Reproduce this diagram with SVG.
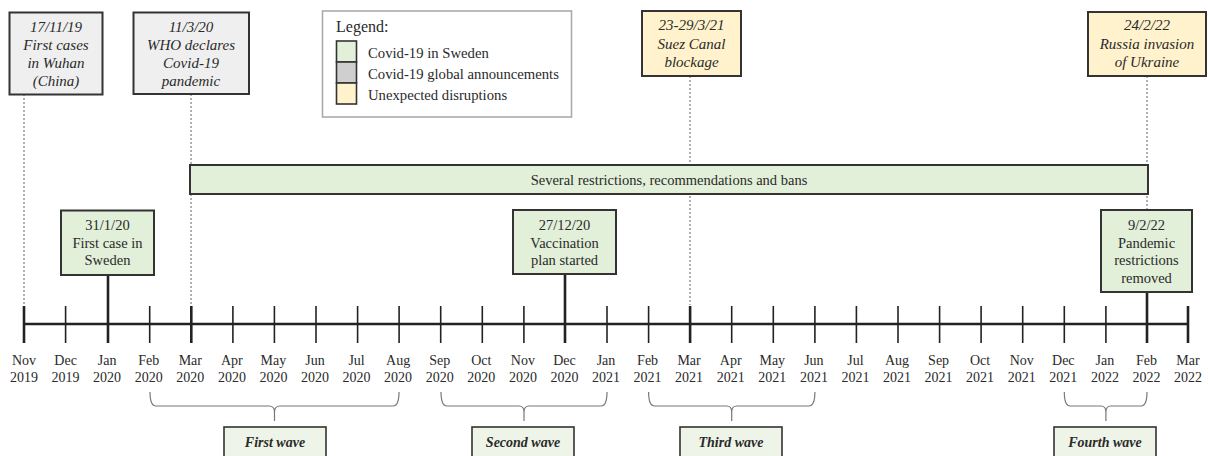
<svg xmlns="http://www.w3.org/2000/svg" width="1208" height="456" viewBox="0 0 1208 456">
<style>
text{font-family:"Liberation Serif","Times New Roman",serif;fill:#2a2a2a;text-anchor:middle}
.it{font-style:italic;font-size:15px}
.ev{font-size:14.5px}
.mo{font-size:14px}
.wv{font-size:14px;font-style:italic;font-weight:bold}
.lg{font-size:14.7px;text-anchor:start}
.gray{fill:#efefef;stroke:#333;stroke-width:2}
.yel{fill:#fff2cc;stroke:#333;stroke-width:2}
.grn{fill:#e2efd9;stroke:#333;stroke-width:2}
.wbox{fill:#eef5e8;stroke:#333;stroke-width:1.6}
.dash{stroke:#888;stroke-width:1.3;stroke-dasharray:2 2;fill:none}
.evl{stroke:#222;stroke-width:2.6;fill:none}
.tk{stroke:#222;stroke-width:1.6}
.tkb{stroke:#222;stroke-width:2.6}
.br{stroke:#777;stroke-width:1.2;fill:none}
</style>

<g id="connectors">
  <line class="dash" x1="24" y1="94" x2="24" y2="305"/>
  <line class="dash" x1="191" y1="94" x2="191" y2="305"/>
  <line class="dash" x1="690" y1="76" x2="690" y2="305"/>
  <line class="dash" x1="1147" y1="76" x2="1147" y2="210"/>
  <line class="evl" x1="108" y1="275" x2="108" y2="343"/>
  <line class="evl" x1="565" y1="274" x2="565" y2="343"/>
  <line class="evl" x1="1147" y1="292" x2="1147" y2="343"/>
</g>

<g id="axis">
  <line x1="24" y1="324" x2="1188" y2="324" stroke="#222" stroke-width="2.3"/>
  <line class="tkb" x1="24" y1="306" x2="24" y2="343"/>
  <line class="tk" x1="65.6" y1="306" x2="65.6" y2="343"/>
  <line class="tk" x1="149.7" y1="306" x2="149.7" y2="343"/>
  <line class="tkb" x1="191.3" y1="306" x2="191.3" y2="343"/>
  <line class="tk" x1="232.9" y1="306" x2="232.9" y2="343"/>
  <line class="tk" x1="274.4" y1="306" x2="274.4" y2="343"/>
  <line class="tk" x1="316" y1="306" x2="316" y2="343"/>
  <line class="tk" x1="357.6" y1="306" x2="357.6" y2="343"/>
  <line class="tk" x1="399.1" y1="306" x2="399.1" y2="343"/>
  <line class="tk" x1="440.7" y1="306" x2="440.7" y2="343"/>
  <line class="tk" x1="482.3" y1="306" x2="482.3" y2="343"/>
  <line class="tk" x1="523.9" y1="306" x2="523.9" y2="343"/>
  <line class="tk" x1="607" y1="306" x2="607" y2="343"/>
  <line class="tk" x1="648.6" y1="306" x2="648.6" y2="343"/>
  <line class="tkb" x1="690.1" y1="306" x2="690.1" y2="343"/>
  <line class="tk" x1="731.7" y1="306" x2="731.7" y2="343"/>
  <line class="tk" x1="773.3" y1="306" x2="773.3" y2="343"/>
  <line class="tk" x1="814.9" y1="306" x2="814.9" y2="343"/>
  <line class="tk" x1="856.4" y1="306" x2="856.4" y2="343"/>
  <line class="tk" x1="898" y1="306" x2="898" y2="343"/>
  <line class="tk" x1="939.6" y1="306" x2="939.6" y2="343"/>
  <line class="tk" x1="981.1" y1="306" x2="981.1" y2="343"/>
  <line class="tk" x1="1022.7" y1="306" x2="1022.7" y2="343"/>
  <line class="tk" x1="1064.3" y1="306" x2="1064.3" y2="343"/>
  <line class="tk" x1="1105.9" y1="306" x2="1105.9" y2="343"/>
  <line class="tkb" x1="1188" y1="306" x2="1188" y2="343"/>
</g>

<g id="month-labels" class="mo">
  <text class="mo" x="24" y="365">Nov</text><text class="mo" x="24" y="382">2019</text>
  <text class="mo" x="65.6" y="365">Dec</text><text class="mo" x="65.6" y="382">2019</text>
  <text class="mo" x="107.1" y="365">Jan</text><text class="mo" x="107.1" y="382">2020</text>
  <text class="mo" x="148.7" y="365">Feb</text><text class="mo" x="148.7" y="382">2020</text>
  <text class="mo" x="190.3" y="365">Mar</text><text class="mo" x="190.3" y="382">2020</text>
  <text class="mo" x="231.9" y="365">Apr</text><text class="mo" x="231.9" y="382">2020</text>
  <text class="mo" x="273.4" y="365">May</text><text class="mo" x="273.4" y="382">2020</text>
  <text class="mo" x="315" y="365">Jun</text><text class="mo" x="315" y="382">2020</text>
  <text class="mo" x="356.6" y="365">Jul</text><text class="mo" x="356.6" y="382">2020</text>
  <text class="mo" x="398.1" y="365">Aug</text><text class="mo" x="398.1" y="382">2020</text>
  <text class="mo" x="439.7" y="365">Sep</text><text class="mo" x="439.7" y="382">2020</text>
  <text class="mo" x="481.3" y="365">Oct</text><text class="mo" x="481.3" y="382">2020</text>
  <text class="mo" x="522.9" y="365">Nov</text><text class="mo" x="522.9" y="382">2020</text>
  <text class="mo" x="564.4" y="365">Dec</text><text class="mo" x="564.4" y="382">2020</text>
  <text class="mo" x="606" y="365">Jan</text><text class="mo" x="606" y="382">2021</text>
  <text class="mo" x="647.6" y="365">Feb</text><text class="mo" x="647.6" y="382">2021</text>
  <text class="mo" x="689.1" y="365">Mar</text><text class="mo" x="689.1" y="382">2021</text>
  <text class="mo" x="730.7" y="365">Apr</text><text class="mo" x="730.7" y="382">2021</text>
  <text class="mo" x="772.3" y="365">May</text><text class="mo" x="772.3" y="382">2021</text>
  <text class="mo" x="813.9" y="365">Jun</text><text class="mo" x="813.9" y="382">2021</text>
  <text class="mo" x="855.4" y="365">Jul</text><text class="mo" x="855.4" y="382">2021</text>
  <text class="mo" x="897" y="365">Aug</text><text class="mo" x="897" y="382">2021</text>
  <text class="mo" x="938.6" y="365">Sep</text><text class="mo" x="938.6" y="382">2021</text>
  <text class="mo" x="980.1" y="365">Oct</text><text class="mo" x="980.1" y="382">2021</text>
  <text class="mo" x="1021.7" y="365">Nov</text><text class="mo" x="1021.7" y="382">2021</text>
  <text class="mo" x="1063.3" y="365">Dec</text><text class="mo" x="1063.3" y="382">2021</text>
  <text class="mo" x="1104.9" y="365">Jan</text><text class="mo" x="1104.9" y="382">2022</text>
  <text class="mo" x="1146.4" y="365">Feb</text><text class="mo" x="1146.4" y="382">2022</text>
  <text class="mo" x="1188" y="365">Mar</text><text class="mo" x="1188" y="382">2022</text>
</g>

<g id="braces">
  <path class="br" d="M150,392 Q150,406 156,406 L269,406 Q274.5,406 274.5,412 L274.5,421 M274.5,412 Q274.5,406 280,406 L393,406 Q399,406 399,392"/>
  <path class="br" d="M441,392 Q441,406 447,406 L519,406 Q524,406 524,412 L524,421 M524,412 Q524,406 529,406 L601,406 Q607,406 607,392"/>
  <path class="br" d="M648.6,392 Q648.6,406 654.6,406 L726.7,406 Q731.7,406 731.7,412 L731.7,421 M731.7,412 Q731.7,406 736.7,406 L808.9,406 Q814.9,406 814.9,392"/>
  <path class="br" d="M1064.3,392 Q1064.3,406 1070.3,406 L1100.9,406 Q1105.9,406 1105.9,412 L1105.9,421 M1105.9,412 Q1105.9,406 1110.9,406 L1141,406 Q1147,406 1147,392"/>
</g>

<g id="wave1"><rect class="wbox" x="224" y="427" width="102" height="30"/><text class="wv" x="275" y="447">First wave</text></g>
<g id="wave2"><rect class="wbox" x="472" y="427" width="102" height="30"/><text class="wv" x="523" y="447">Second wave</text></g>
<g id="wave3"><rect class="wbox" x="680" y="427" width="102" height="30"/><text class="wv" x="731" y="447">Third wave</text></g>
<g id="wave4"><rect class="wbox" x="1054" y="427" width="102" height="30"/><text class="wv" x="1105" y="447">Fourth wave</text></g>

<g id="restrictions">
  <rect class="grn" x="190" y="165" width="958" height="29"/>
  <text class="ev" x="669" y="184.5">Several restrictions, recommendations and bans</text>
</g>

<g id="wuhan">
  <rect class="gray" x="9.5" y="12.5" width="93" height="82"/>
  <text class="it" x="56" y="32">17/11/19</text>
  <text class="it" x="56" y="50">First cases</text>
  <text class="it" x="56" y="68">in Wuhan</text>
  <text class="it" x="56" y="86">(China)</text>
</g>
<g id="who">
  <rect class="gray" x="133.5" y="12.5" width="115.5" height="81.5"/>
  <text class="it" x="191" y="32">11/3/20</text>
  <text class="it" x="191" y="50">WHO declares</text>
  <text class="it" x="191" y="68">Covid-19</text>
  <text class="it" x="191" y="86">pandemic</text>
</g>
<g id="suez">
  <rect class="yel" x="642" y="11" width="99" height="65"/>
  <text class="it" x="691.5" y="30">23-29/3/21</text>
  <text class="it" x="691.5" y="48.5">Suez Canal</text>
  <text class="it" x="691.5" y="67">blockage</text>
</g>
<g id="russia">
  <rect class="yel" x="1088" y="12" width="118" height="64"/>
  <text class="it" x="1147" y="30">24/2/22</text>
  <text class="it" x="1147" y="48.5">Russia invasion</text>
  <text class="it" x="1147" y="67">of Ukraine</text>
</g>

<g id="legend">
  <rect x="322.5" y="11" width="249" height="106" fill="#fff" stroke="#aaa" stroke-width="1.6"/>
  <text x="336" y="32" style="font-size:16px;text-anchor:start">Legend:</text>
  <rect x="336.5" y="41" width="20" height="21" fill="#e2efd9" stroke="#333" stroke-width="1.6"/>
  <rect x="336.5" y="62" width="20" height="21" fill="#cfcfcf" stroke="#333" stroke-width="1.6"/>
  <rect x="336.5" y="83" width="20" height="21" fill="#fff2cc" stroke="#333" stroke-width="1.6"/>
  <text class="lg" x="368" y="57.5">Covid-19 in Sweden</text>
  <text class="lg" x="368" y="78.5">Covid-19 global announcements</text>
  <text class="lg" x="368" y="99.5">Unexpected disruptions</text>
</g>

<g id="first-case-sweden">
  <rect class="grn" x="61" y="210.5" width="93" height="64.5"/>
  <text class="ev" x="107.5" y="230">31/1/20</text>
  <text class="ev" x="107.5" y="247.5">First case in</text>
  <text class="ev" x="107.5" y="265">Sweden</text>
</g>
<g id="vaccination">
  <rect class="grn" x="513" y="210" width="103" height="64"/>
  <text class="ev" x="564.5" y="230">27/12/20</text>
  <text class="ev" x="564.5" y="247.5">Vaccination</text>
  <text class="ev" x="564.5" y="265">plan started</text>
</g>
<g id="restrictions-removed">
  <rect class="grn" x="1101" y="210" width="91" height="82"/>
  <text class="ev" x="1146.5" y="230">9/2/22</text>
  <text class="ev" x="1146.5" y="247.5">Pandemic</text>
  <text class="ev" x="1146.5" y="265">restrictions</text>
  <text class="ev" x="1146.5" y="282.5">removed</text>
</g>
</svg>
